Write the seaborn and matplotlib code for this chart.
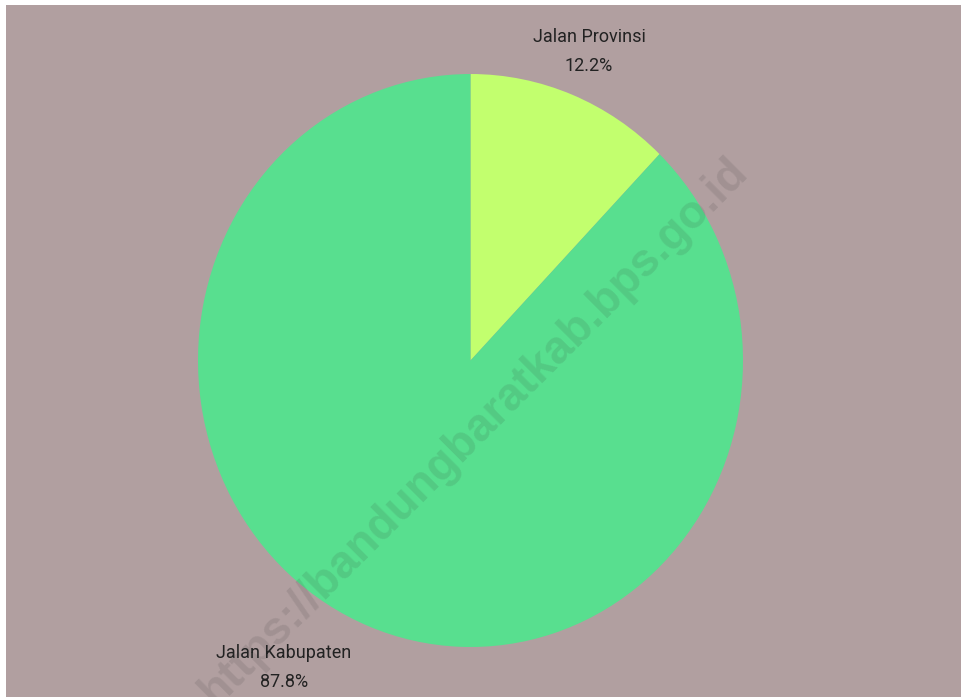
import matplotlib
matplotlib.use("Agg")
import matplotlib.pyplot as plt
import seaborn as sns

# Data
categories = ["Jalan Provinsi", "Jalan Kabupaten"]
values = [12.2, 87.8]
colors = ["#c2ff6e", "#58df8f"]
watermark = "https://bandungbaratkab.bps.go.id"

sns.set_theme(style="white")
plt.rcParams["font.family"] = ["Roboto", "DejaVu Sans"]

BG = "#b19fa0"
W, H = 962, 697
fig = plt.figure(figsize=(W / 100, H / 100), dpi=100, facecolor="white")

# pie geometry in pixels (center and radii)
cx, cy, rx, ry = 470.5, 360.5, 272.5, 286.5
left_px, top_px = 6, 5
ax = fig.add_axes([left_px / W, 0, (W - left_px) / W, (H - top_px) / H])

wedges, _ = ax.pie(values, colors=colors, startangle=90, counterclock=False,
                   wedgeprops=dict(linewidth=0))
ax.set_aspect("auto")
ax.set_xlim((left_px - cx) / rx, (W - cx) / rx)
ax.set_ylim(-(H - cy) / ry, (cy - top_px) / ry)
ax.set_frame_on(True)
ax.set_facecolor(BG)
ax.patch.set_visible(True)
ax.set_xticks([]); ax.set_yticks([])
for s in ax.spines.values():
    s.set_visible(False)

def px2data(px, py):
    return (px - cx) / rx, (cy - py) / ry

label_pos = [(589, 37, 66), (284, 653, 682)]
for cat, val, (lx, ly1, ly2) in zip(categories, values, label_pos):
    x, y = px2data(lx, ly1)
    ax.text(x, y, cat, ha="center", va="center", fontsize=13, color="#222222")
    x, y = px2data(lx, ly2)
    ax.text(x, y, f"{val:.1f}%", ha="center", va="center", fontsize=13, color="#222222")

wx, wy = px2data(474, 432)
ax.text(wx, wy, watermark, ha="center", va="center", rotation=45,
        fontsize=33, fontweight="bold", family=["Liberation Sans", "DejaVu Sans"],
        color="#303030", alpha=0.12, clip_on=True)

fig.savefig("out.png", dpi=100, facecolor="white")
